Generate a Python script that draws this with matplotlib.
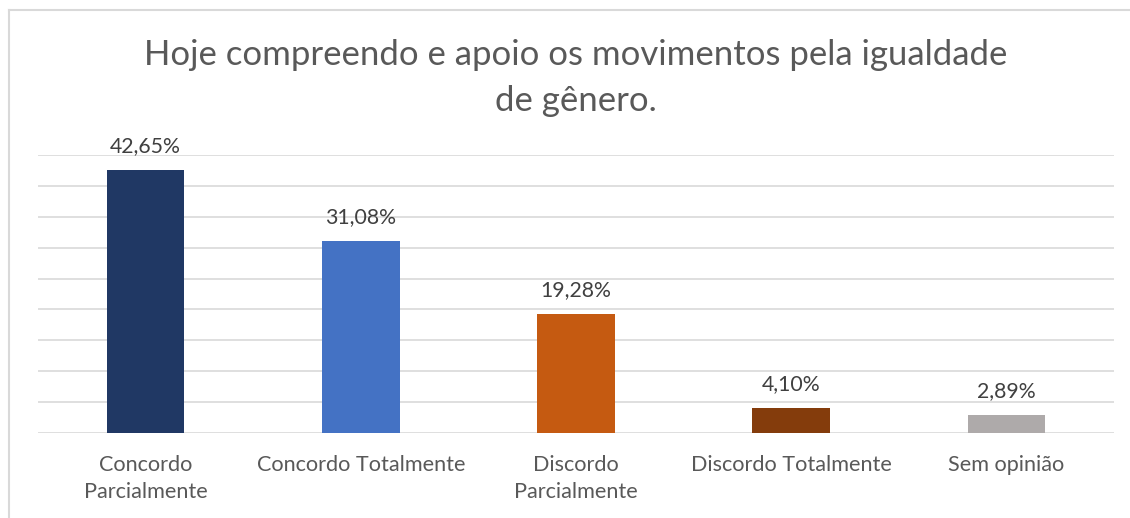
import matplotlib.pyplot as plt
import numpy as np

categories = ["Concordo\nParcialmente", "Concordo Totalmente", "Discordo\nParcialmente",
              "Discordo Totalmente", "Sem opinião"]
values = [42.65, 31.08, 19.28, 4.10, 2.89]
labels = ["42,65%", "31,08%", "19,28%", "4,10%", "2,89%"]
colors = ["#203864", "#4472C4", "#C55A11", "#843C0C", "#AEAAAA"]

plt.rcParams['font.family'] = ['Lato', 'DejaVu Sans']
txt = "#595959"

W, H = 1130, 518
fig = plt.figure(figsize=(W / 100, H / 100), dpi=100)
ax = fig.add_axes([38 / W, (H - 433) / H, (1114 - 38) / W, (433 - 155) / H])

x = np.arange(len(values))
ax.bar(x, values, width=0.36, color=colors, zorder=3)
for xi, v, lab in zip(x, values, labels):
    ax.annotate(lab, (xi, v), xytext=(0, 10), textcoords="offset points",
                ha="center", va="bottom", fontsize=15.3, color="#404040")

ax.set_xlim(-0.5, len(values) - 0.5)
ax.set_ylim(0, 45)
ax.set_yticks(np.arange(0, 46, 5))
ax.yaxis.grid(True, color="#D9D9D9", linewidth=1.2, zorder=0)
ax.tick_params(axis="y", left=False, labelleft=False)
ax.tick_params(axis="x", length=0, pad=16)
ax.set_xticks(x)
ax.set_xticklabels(categories, fontsize=15.6, color=txt, linespacing=1.4)
for s in ax.spines.values():
    s.set_visible(False)

fig.text(576 / W, 1 - 55 / H, "Hoje compreendo e apoio os movimentos pela igualdade",
         ha="center", va="center", fontsize=25, color=txt)
fig.text(576 / W, 1 - 101 / H, "de gênero.", ha="center", va="center", fontsize=25, color=txt)

# borda do gráfico (esquerda e topo)
fig.add_artist(plt.Line2D([9 / W, 9 / W], [0, 1 - 10 / H], color="#D9D9D9", lw=1.5))
fig.add_artist(plt.Line2D([9 / W, 1], [1 - 10 / H, 1 - 10 / H], color="#D9D9D9", lw=1.5))

fig.savefig("out.png", dpi=100)
